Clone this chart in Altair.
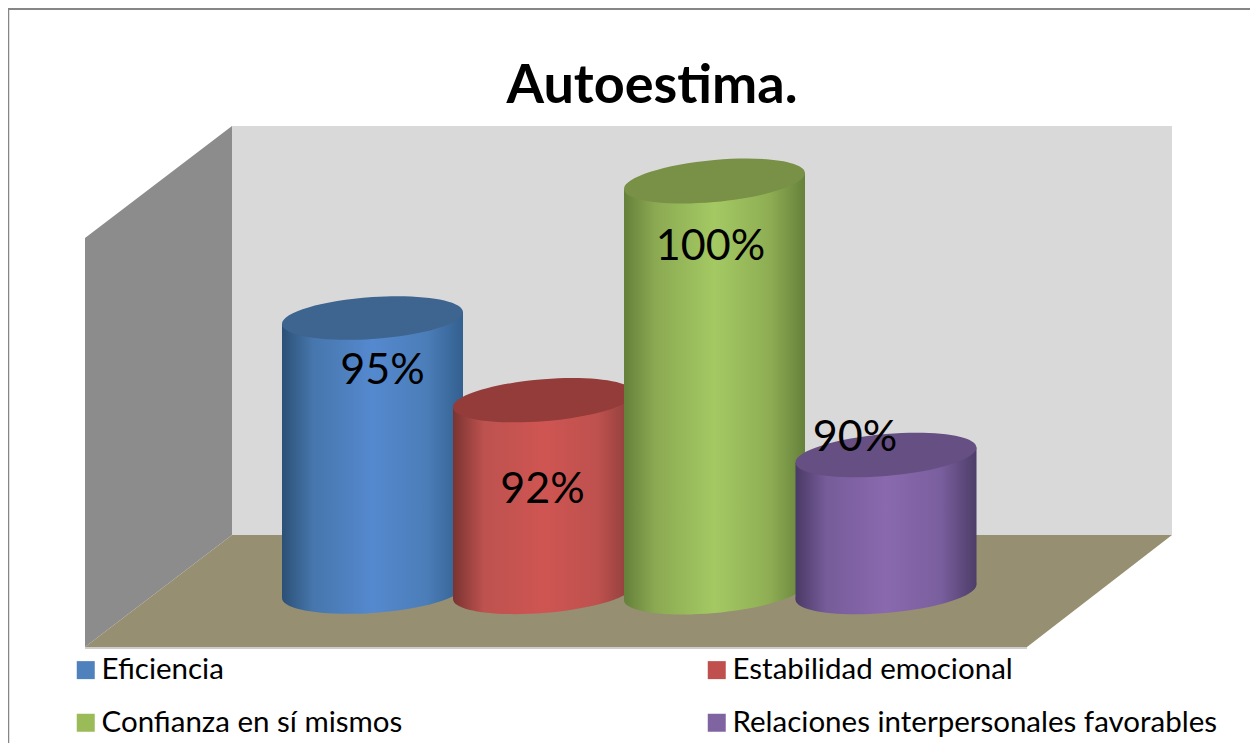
import altair as alt
import pandas as pd

# ---- chart values ----
categories = ["Eficiencia", "Estabilidad emocional", "Confianza en sí mismos", "Relaciones interpersonales favorables"]
values = [95, 92, 100, 90]
labels = ["95%", "92%", "100%", "90%"]
axis_floor = 85

# ---- colours ----
legend_colors = ["#4F81BD", "#C0504D", "#9BBB59", "#8064A2"]
top_colors = ["#3E6490", "#933C39", "#799146", "#664F82"]
side_stops = [
    ["#2C5075", "#4676AC", "#5589CF", "#4B7DB8", "#33608F"],
    ["#7A3331", "#BD524F", "#CF5552", "#BE514E", "#8A3D3A"],
    ["#64803A", "#8BA952", "#A4C963", "#8FAE54", "#66813B"],
    ["#4A3A66", "#765C99", "#8A69AE", "#7A5F9E", "#4D3D68"],
]
wall_back, wall_side, floor_color, frame_color = "#D9D9D9", "#8C8C8C", "#968F72", "#868686"

# ---- layout (page pixels) ----
W, H = 1242, 735
centers = [372.5, 543.5, 714.5, 886.0]
half_w = 90.5
half_h = 21.0
tilts = [6.0, 7.0, 8.0, 7.5]
px_per_pct = 27.4
label_dx = [10, -1, -4, -31]
label_dy = [53, 90, 66, -17]
FONT = "Lato"

xs = alt.Scale(domain=[8, 8 + W], range=[0, W], nice=False, zero=False)
ys_px = alt.Scale(domain=[8, 8 + H], range=[0, H], nice=False, zero=False)
pct_top = 100 + (181 - 8) / px_per_pct
pct_bot = 100 - (8 + H - 181) / px_per_pct
ys_pct = alt.Scale(domain=[pct_bot, pct_top], range=[H, 0], nice=False, zero=False)


def X(name="x"):
    return alt.X(f"{name}:Q", scale=xs, axis=None)


def Ypx(name="y"):
    return alt.Y(f"{name}:Q", scale=ys_px, axis=None)


def Ypct(name="y"):
    return alt.Y(f"{name}:Q", scale=ys_pct, axis=None)


def ellipse_path(tilt):
    k = 0.5523
    pts = [(1, 0), (1, k), (k, 1), (0, 1), (-k, 1), (-1, k), (-1, 0), (-1, -k), (-k, -1), (0, -1), (k, -1), (1, -k), (1, 0)]
    def t(p):
        return (p[0], (-tilt * p[0] + half_h * p[1]) / half_w)
    q = [t(p) for p in pts]
    d = f"M{q[0][0]:.4f},{q[0][1]:.4f}"
    for i in range(1, len(q), 3):
        d += "C" + " ".join(f"{a:.4f},{b:.4f}" for a, b in q[i:i + 3])
    return d + "Z"


def gradient(stops):
    offs = [0, 0.17, 0.5, 0.8, 1]
    return alt.Gradient(
        gradient="linear", x1=0, x2=1, y1=0, y2=0,
        stops=[alt.GradientStop(color=c, offset=o) for c, o in zip(stops, offs)],
    )


layers = []

# walls and floor
layers.append(alt.Chart(pd.DataFrame({"x": [85, 232], "y": [238, 126], "y2": [647, 535]}))
              .mark_area(color=wall_side, opacity=1)
              .encode(x=X(), y=Ypx(), y2="y2:Q"))
layers.append(alt.Chart(pd.DataFrame({"x": [232, 1172], "y": [126, 126], "y2": [535, 535]}))
              .mark_area(color=wall_back, opacity=1)
              .encode(x=X(), y=Ypx(), y2="y2:Q"))
layers.append(alt.Chart(pd.DataFrame({"x": [85, 232, 1027, 1172], "y": [647, 535, 535, 535], "y2": [647, 647, 647, 535]}))
              .mark_area(color=floor_color, opacity=1)
              .encode(x=X(), y=Ypx(), y2="y2:Q"))
layers.append(alt.Chart(pd.DataFrame({"x": [85], "x2": [1027], "y": [648]}))
              .mark_rule(color="#BDBDBD", strokeWidth=1.5)
              .encode(x=X(), x2="x2:Q", y=Ypx()))

# frame
layers.append(alt.Chart(pd.DataFrame({"x": [8], "x2": [8 + W], "y": [9]}))
              .mark_rule(color=frame_color, strokeWidth=2)
              .encode(x=X(), x2="x2:Q", y=Ypx()))
layers.append(alt.Chart(pd.DataFrame({"x": [8.5], "y": [8], "y2": [8 + H]}))
              .mark_rule(color=frame_color, strokeWidth=1.5)
              .encode(x=X(), y=Ypx(), y2="y2:Q"))

# cylinders, left to right
for i, cat in enumerate(categories):
    c, v, s = centers[i], values[i], tilts[i]
    ds = s / px_per_pct
    grad = gradient(side_stops[i])
    path = ellipse_path(s)
    size = (2 * half_w) ** 2
    base = alt.Chart(pd.DataFrame({"x": [c], "y": [axis_floor], "cat": [cat]}))
    layers.append(base.mark_point(shape=path, size=size, filled=True, fill=grad, opacity=1, strokeWidth=0)
                  .encode(x=X(), y=Ypct()))
    body = pd.DataFrame({"x": [c - half_w, c + half_w],
                         "y": [v - ds, v + ds],
                         "y2": [axis_floor - ds, axis_floor + ds]})
    layers.append(alt.Chart(body).mark_area(fill=grad, opacity=1).encode(x=X(), y=Ypct(), y2="y2:Q"))
    top = alt.Chart(pd.DataFrame({"x": [c], "y": [v]}))
    layers.append(top.mark_point(shape=path, size=size, filled=True, fill=top_colors[i], opacity=1, strokeWidth=0)
                  .encode(x=X(), y=Ypct()))

# data labels
for i, lab in enumerate(labels):
    layers.append(alt.Chart(pd.DataFrame({"x": [centers[i]], "y": [values[i]], "t": [lab]}))
                  .mark_text(font=FONT, fontSize=43, color="#000000", align="center", baseline="middle",
                             dx=label_dx[i], dy=label_dy[i])
                  .encode(x=X(), y=Ypct(), text="t:N"))

# legend
legend_df = pd.DataFrame({"x": centers, "y": values, "cat": categories})
layers.append(alt.Chart(legend_df).mark_point(opacity=0, filled=True)
              .encode(x=X(), y=Ypct(),
                      color=alt.Color("cat:N",
                                      scale=alt.Scale(domain=categories, range=legend_colors),
                                      legend=alt.Legend(orient="none", legendX=63, legendY=647, title=None,
                                                        columns=2, direction="horizontal", padding=0,
                                                        columnPadding=299, rowPadding=22,
                                                        symbolType="square", symbolSize=324, symbolOpacity=1,
                                                        symbolStrokeWidth=0,
                                                        labelFont=FONT, labelFontSize=29.5, labelColor="#000000",
                                                        labelLimit=700, labelOffset=1))))

chart = (alt.layer(*layers)
         .resolve_scale(y="independent")
         .properties(width=W, height=H, padding=0, autosize=alt.AutoSizeParams(type="none"),
                     title=alt.TitleParams("Autoestima.", font=FONT, fontSize=54, fontWeight="bold", color="#000000",
                                           anchor="middle", dx=23, dy=154, baseline="alphabetic"))
         .configure_view(stroke=None))

chart.save("out.html", embed_options={"renderer": "svg", "actions": False})
